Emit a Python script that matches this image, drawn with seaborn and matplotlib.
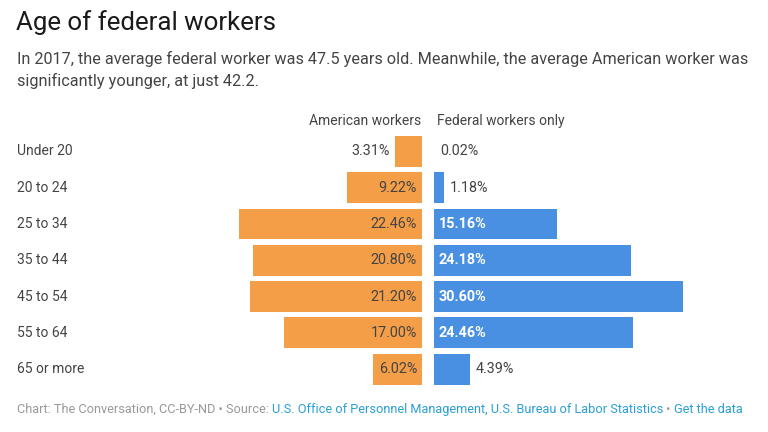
import matplotlib
matplotlib.use("Agg")
import matplotlib.pyplot as plt
import seaborn as sns
import pandas as pd

categories = ["Under 20", "20 to 24", "25 to 34", "35 to 44", "45 to 54", "55 to 64", "65 or more"]
american = [3.31, 9.22, 22.46, 20.80, 21.20, 17.00, 6.02]
federal = [0.02, 1.18, 15.16, 24.18, 30.60, 24.46, 4.39]

title = "Age of federal workers"
subtitle = ("In 2017, the average federal worker was 47.5 years old. Meanwhile, the average American worker was\n"
            "significantly younger, at just 42.2.")
header_left = "American workers"
header_right = "Federal workers only"

ORANGE = "#F49E48"
BLUE = "#4A90E2"
TXT = "#444444"

sns.set_theme(style="white")
plt.rcParams["font.family"] = ["Roboto", "DejaVu Sans"]

df = pd.DataFrame({"age": categories, "american": american, "federal": federal})

W, H = 768, 432
fig = plt.figure(figsize=(W / 100, H / 100), dpi=100)
fig.patch.set_facecolor("white")

SCALE = 8.13  # px per percent
top_px, bot_px = 133.3, 387.3
left_right_px = 422.0
right_left_px = 434.0
left_w_px = 200.0
right_w_px = 320.0

def ax_rect(x0, w):
    return [x0 / W, 1 - bot_px / H, w / W, (bot_px - top_px) / H]

axL = fig.add_axes(ax_rect(left_right_px - left_w_px, left_w_px))
axR = fig.add_axes(ax_rect(right_left_px, right_w_px))

sns.barplot(data=df, y="age", x="american", orient="h", color=ORANGE, width=0.85,
            saturation=1, ax=axL, edgecolor="none")
sns.barplot(data=df, y="age", x="federal", orient="h", color=BLUE, width=0.85,
            saturation=1, ax=axR, edgecolor="none")

axL.set_xlim(left_w_px / SCALE, 0)
axR.set_xlim(0, right_w_px / SCALE)
for ax in (axL, axR):
    ax.set_ylim(len(categories) - 0.5, -0.5)
    ax.set_xlabel("")
    ax.set_ylabel("")
    ax.set_xticks([])
    ax.set_yticks([])
    for s in ax.spines.values():
        s.set_visible(False)
    ax.patch.set_alpha(0)

fs_val = 10.4
px = 1.0 / SCALE
for i, v in enumerate(american):
    if v > 5:
        axL.text(5 * px, i, f"{v:.2f}%", ha="right", va="center",
                 fontsize=fs_val, color=TXT)
    else:
        axL.text(v + 5 * px, i, f"{v:.2f}%", ha="right", va="center",
                 fontsize=fs_val, color=TXT)
for i, v in enumerate(federal):
    if v > 10:
        axR.text(4.5 * px, i, f"{v:.2f}%", ha="left", va="center",
                 fontsize=fs_val, color="white", fontweight="bold")
    else:
        axR.text(v + 6 * px, i, f"{v:.2f}%", ha="left", va="center",
                 fontsize=fs_val, color=TXT)

# category labels
for i, c in enumerate(categories):
    yc = top_px + (i + 0.5) * (bot_px - top_px) / len(categories)
    fig.text(17 / W, 1 - yc / H, c, ha="left", va="center", fontsize=10.0, color=TXT)

# headers
fig.text(421 / W, 1 - 121 / H, header_left, ha="right", va="center", fontsize=10.0, color=TXT)
fig.text(437 / W, 1 - 121 / H, header_right, ha="left", va="center", fontsize=10.0, color=TXT)

fig.text(16 / W, 1 - 23 / H, title, ha="left", va="center", fontsize=18.6, color="#1a1a1a")
fig.text(17 / W, 1 - 70 / H, subtitle, ha="left", va="center", fontsize=11.7, color=TXT,
         linespacing=1.42)

# footer
fx = 17 / W
fy = 1 - 409.5 / H
parts = [("Chart: The Conversation, CC-BY-ND \u2022 Source: ", "#999999"),
         ("U.S. Office of Personnel Management, U.S. Bureau of Labor Statistics", "#2A9FD6"),
         (" \u2022 ", "#999999"),
         ("Get the data", "#2A9FD6")]
renderer = fig.canvas.get_renderer()
x = fx
for t, col in parts:
    txt = fig.text(x, fy, t, ha="left", va="center", fontsize=9.15, color=col)
    bb = txt.get_window_extent(renderer=renderer)
    x += bb.width / W

fig.savefig("out.png", dpi=100, facecolor="white")
